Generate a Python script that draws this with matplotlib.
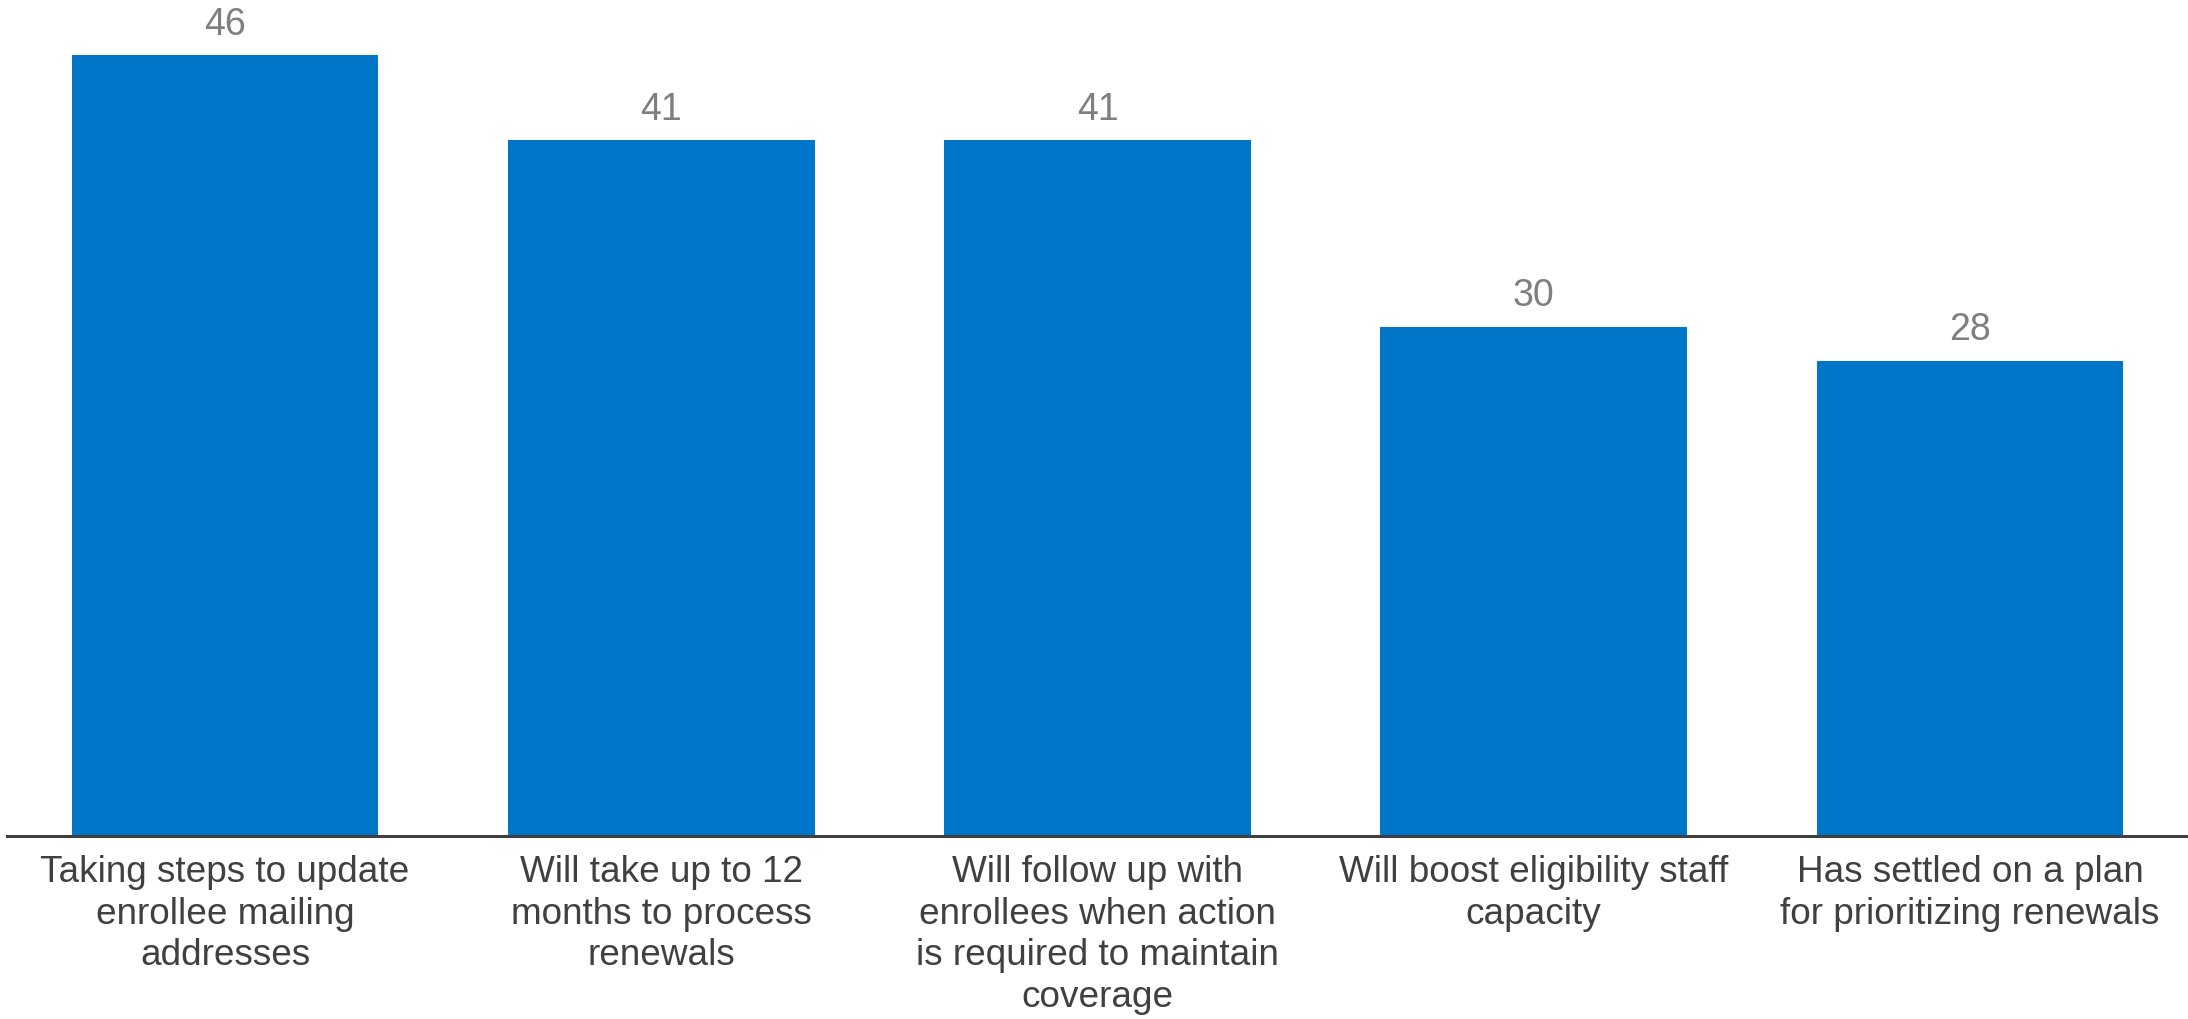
import matplotlib
matplotlib.use("Agg")
import matplotlib.pyplot as plt

plt.rcParams['font.family'] = ['Liberation Sans', 'DejaVu Sans']

categories = [
    "Taking steps to update\nenrollee mailing\naddresses",
    "Will take up to 12\nmonths to process\nrenewals",
    "Will follow up with\nenrollees when action\nis required to maintain\ncoverage",
    "Will boost eligibility staff\ncapacity",
    "Has settled on a plan\nfor prioritizing renewals",
]
values = [46, 41, 41, 30, 28]

bar_color = "#0176C9"
label_gray = "#7F7F7F"
text_dark = "#404040"

fig = plt.figure(figsize=(21.88, 10.20), dpi=100)
ax = fig.add_axes([0.0032, 0.1797, 0.9968, 0.8203])

x = list(range(len(values)))
bars = ax.bar(x, values, width=0.703, color=bar_color, zorder=2)

ax.set_xlim(-0.5, len(values) - 0.5)
ax.set_ylim(0, 49.33)

for rect, v in zip(bars, values):
    ax.annotate(f"{v}", (rect.get_x() + rect.get_width() / 2, v),
                xytext=(0, 15.5), textcoords="offset points",
                ha="center", va="baseline", fontsize=27, color=label_gray)

ax.set_xticks(x)
ax.set_xticklabels(categories, fontsize=26.6, color=text_dark,
                   linespacing=1.25, ha="center", multialignment="center")
ax.tick_params(axis="x", length=0, pad=13)
ax.set_yticks([])

for side in ("top", "right", "left"):
    ax.spines[side].set_visible(False)
ax.spines["bottom"].set_color(text_dark)
ax.spines["bottom"].set_linewidth(2.2)
ax.spines["bottom"].set_zorder(3)

fig.savefig("out.png", dpi=100, facecolor="white")
